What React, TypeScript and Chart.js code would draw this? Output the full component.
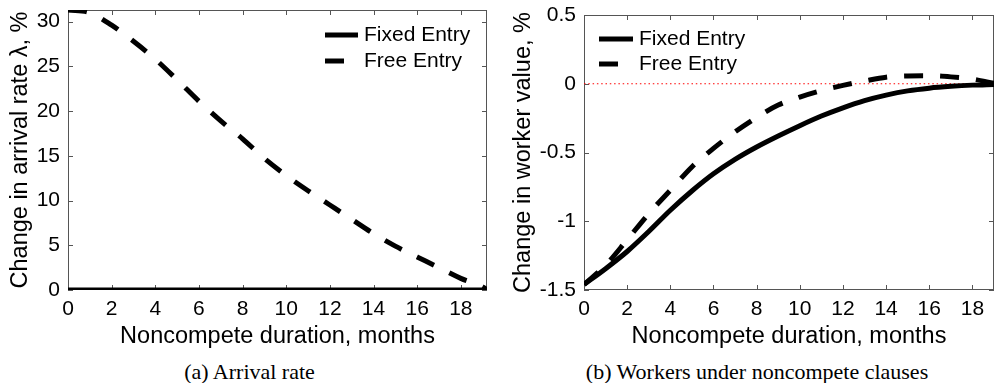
import React, { useEffect, useRef } from "react";
import { Chart, registerables } from "chart.js";

Chart.register(...registerables);

// ---------- Panel (a): arrival rate ----------
const monthsA = [0, 1, 2, 3, 4, 5, 6, 7, 8, 9, 10, 11, 12, 13, 14, 15, 16, 17, 18, 19, 19.2];
const fixedEntryA = [0, 0, 0, 0, 0, 0, 0, 0, 0, 0, 0, 0, 0, 0, 0, 0, 0, 0, 0, 0, 0];
const freeEntryA = [31.3, 31.0, 29.6, 27.8, 25.8, 23.5, 21.1, 18.9, 16.9, 14.7, 12.8, 11.1, 9.5, 7.9, 6.3, 4.9, 3.7, 2.5, 1.3, 0.35, 0.0];

// ---------- Panel (b): worker value ----------
const monthsB = [0, 1, 2, 3, 4, 5, 6, 7, 8, 9, 10, 11, 12, 13, 14, 15, 16, 17, 18, 19];
const fixedEntryB = [-1.46, -1.345, -1.22, -1.075, -0.92, -0.78, -0.655, -0.55, -0.46, -0.38, -0.305, -0.235, -0.175, -0.123, -0.083, -0.052, -0.032, -0.019, -0.01, -0.005];
const freeEntryB = [-1.46, -1.32, -1.135, -0.945, -0.775, -0.605, -0.47, -0.35, -0.245, -0.155, -0.097, -0.05, -0.012, 0.02, 0.048, 0.057, 0.058, 0.05, 0.034, 0.003];
const zeroLineMonthsB = [0, 19];
const zeroLineB = [0, 0];

// ---------- Text ----------
const seriesLabels = ["Fixed Entry", "Free Entry"];
const xTitle = "Noncompete duration, months";
const yTitleA = "Change in arrival rate \u03bb, %";
const yTitleB = "Change in worker value, %";
const captionA = "(a) Arrival rate";
const captionB = "(b) Workers under noncompete clauses";

const SANS = "'Liberation Sans', Arial, Helvetica, sans-serif";
const SERIF = "'Liberation Serif', 'Times New Roman', serif";

const pts = (xs: number[], ys: number[]) => xs.map((x, i) => ({ x, y: ys[i] }));

const frameTicks = {
  id: "frameTicks",
  beforeDatasetsDraw(chart: any) {
    const { ctx, chartArea: a, scales } = chart;
    const L = 5;
    ctx.save();
    ctx.strokeStyle = "#555";
    ctx.lineWidth = 1;
    ctx.strokeRect(Math.round(a.left) + 0.5, Math.round(a.top) + 0.5, Math.round(a.right - a.left) - 1, Math.round(a.bottom - a.top) - 1);
    ctx.beginPath();
    for (const t of scales.x.ticks) {
      const p = Math.round(scales.x.getPixelForValue(t.value)) + 0.5;
      ctx.moveTo(p, a.bottom);
      ctx.lineTo(p, a.bottom - L);
      ctx.moveTo(p, a.top);
      ctx.lineTo(p, a.top + L);
    }
    for (const t of scales.y.ticks) {
      const p = Math.round(scales.y.getPixelForValue(t.value)) + 0.5;
      ctx.moveTo(a.left, p);
      ctx.lineTo(a.left + L, p);
      ctx.moveTo(a.right, p);
      ctx.lineTo(a.right - L, p);
    }
    ctx.stroke();
    ctx.restore();
  },
};

const insideLegend = {
  id: "insideLegend",
  afterDatasetsDraw(chart: any, _args: any, opts: any) {
    const { ctx, chartArea: a } = chart;
    ctx.save();
    ctx.font = `${opts.fontSize}px ${SANS}`;
    ctx.textBaseline = "middle";
    ctx.textAlign = "left";
    chart.data.datasets.forEach((ds: any, i: number) => {
      if (!ds.label) return;
      const y = a.top + opts.rows[i];
      const x0 = a.left + opts.x;
      ctx.beginPath();
      ctx.setLineDash(ds.borderDash || []);
      ctx.lineCap = "butt";
      ctx.lineWidth = ds.borderWidth;
      ctx.strokeStyle = ds.borderColor;
      ctx.moveTo(x0, y);
      ctx.lineTo(x0 + opts.lineLen, y);
      ctx.stroke();
      ctx.setLineDash([]);
      ctx.fillStyle = "#000";
      ctx.fillText(ds.label, x0 + opts.lineLen + opts.textGap, y);
    });
    ctx.restore();
  },
};

type PanelProps = {
  left: number;
  width: number;
  height: number;
  datasets: any[];
  xMax: number;
  yMin: number;
  yMax: number;
  yStep: number;
  yTitle: string;
  yAxisWidth: number;
  yTitlePad: number;
  padTop: number;
  padRight: number;
  legend: any;
};

function Panel(p: PanelProps) {
  const ref = useRef<HTMLCanvasElement>(null);
  useEffect(() => {
    if (!ref.current) return;
    const chart = new Chart(ref.current, {
      type: "line",
      data: { datasets: p.datasets },
      plugins: [frameTicks, insideLegend],
      options: {
        responsive: false,
        animation: false,
        events: [],
        layout: { padding: { top: p.padTop, right: p.padRight, left: 0, bottom: 0 } },
        elements: { point: { radius: 0 } },
        plugins: {
          legend: { display: false },
          tooltip: { enabled: false },
          insideLegend: p.legend,
        } as any,
        scales: {
          x: {
            type: "linear",
            min: 0,
            max: p.xMax,
            border: { display: false },
            grid: { display: false, drawTicks: false },
            ticks: { stepSize: 2, includeBounds: false, padding: 7, color: "#000", font: { family: SANS, size: 21 } },
            title: { display: true, text: xTitle, color: "#000", font: { family: SANS, size: 23.5 }, padding: { top: 0, bottom: 4 } },
            afterFit: (s: any) => {
              s.height = 65;
              s.paddingLeft = 0;
              s.paddingRight = 0;
            },
          },
          y: {
            type: "linear",
            min: p.yMin,
            max: p.yMax,
            border: { display: false },
            grid: { display: false, drawTicks: false },
            ticks: {
              stepSize: p.yStep,
              includeBounds: false,
              padding: 8,
              color: "#000",
              font: { family: SANS, size: 21 },
              callback: (v: any) => String(Math.round(Number(v) * 100) / 100),
            },
            title: { display: true, text: p.yTitle, color: "#000", font: { family: SANS, size: 23.5 }, padding: { top: p.yTitlePad, bottom: 0 } },
            afterFit: (s: any) => {
              s.width = p.yAxisWidth;
              s.paddingTop = 0;
              s.paddingBottom = 0;
            },
          },
        },
      } as any,
    });
    return () => chart.destroy();
  }, []);
  return (
    <div style={{ position: "absolute", left: p.left, top: 0, width: p.width, height: p.height }}>
      <canvas ref={ref} width={p.width} height={p.height} style={{ display: "block" }} />
    </div>
  );
}

const lineStyle = (label: string, dashed: boolean) => ({
  label,
  borderColor: "#000",
  backgroundColor: "#000",
  borderWidth: 5,
  borderDash: dashed ? [19, 17] : [],
  borderCapStyle: "butt",
  fill: false,
  cubicInterpolationMode: "monotone",
  pointRadius: 0,
});

export default function App() {
  const dsA = [
    { ...lineStyle(seriesLabels[0], false), data: pts(monthsA, fixedEntryA) },
    { ...lineStyle(seriesLabels[1], true), data: pts(monthsA, freeEntryA) },
  ];
  const dsB = [
    { ...lineStyle(seriesLabels[0], false), data: pts(monthsB, fixedEntryB) },
    { ...lineStyle(seriesLabels[1], true), data: pts(monthsB, freeEntryB) },
    {
      label: "",
      data: pts(zeroLineMonthsB, zeroLineB),
      borderColor: "#ff0000",
      borderWidth: 1,
      borderDash: [1.5, 2.8],
      pointRadius: 0,
      fill: false,
    },
  ];
  const captionStyle = (cx: number): React.CSSProperties => ({
    position: "absolute",
    left: cx - 250,
    width: 500,
    top: 360,
    textAlign: "center",
    fontFamily: SERIF,
    fontSize: 22,
    lineHeight: "24px",
    color: "#000",
    whiteSpace: "nowrap",
  });
  return (
    <div style={{ position: "absolute", left: 0, top: 0, width: 995, height: 383, background: "#fff", overflow: "hidden" }}>
      <Panel
        left={0}
        width={495}
        height={355}
        datasets={dsA}
        xMax={19.2}
        yMin={0}
        yMax={31.3}
        yStep={5}
        yTitle={yTitleA}
        yAxisWidth={68}
        yTitlePad={6}
        padTop={10}
        padRight={8}
        legend={{ x: 257, rows: [25, 51], lineLen: 33, textGap: 6, fontSize: 21 }}
      />
      <Panel
        left={505}
        width={490}
        height={355}
        datasets={dsB}
        xMax={19.0}
        yMin={-1.5}
        yMax={0.5}
        yStep={0.5}
        yTitle={yTitleB}
        yAxisWidth={79}
        yTitlePad={4}
        padTop={15}
        padRight={1}
        legend={{ x: 15, rows: [24, 49], lineLen: 34, textGap: 6, fontSize: 21 }}
      />
      <div style={captionStyle(249.5)}>{captionA}</div>
      <div style={captionStyle(757)}>{captionB}</div>
    </div>
  );
}
